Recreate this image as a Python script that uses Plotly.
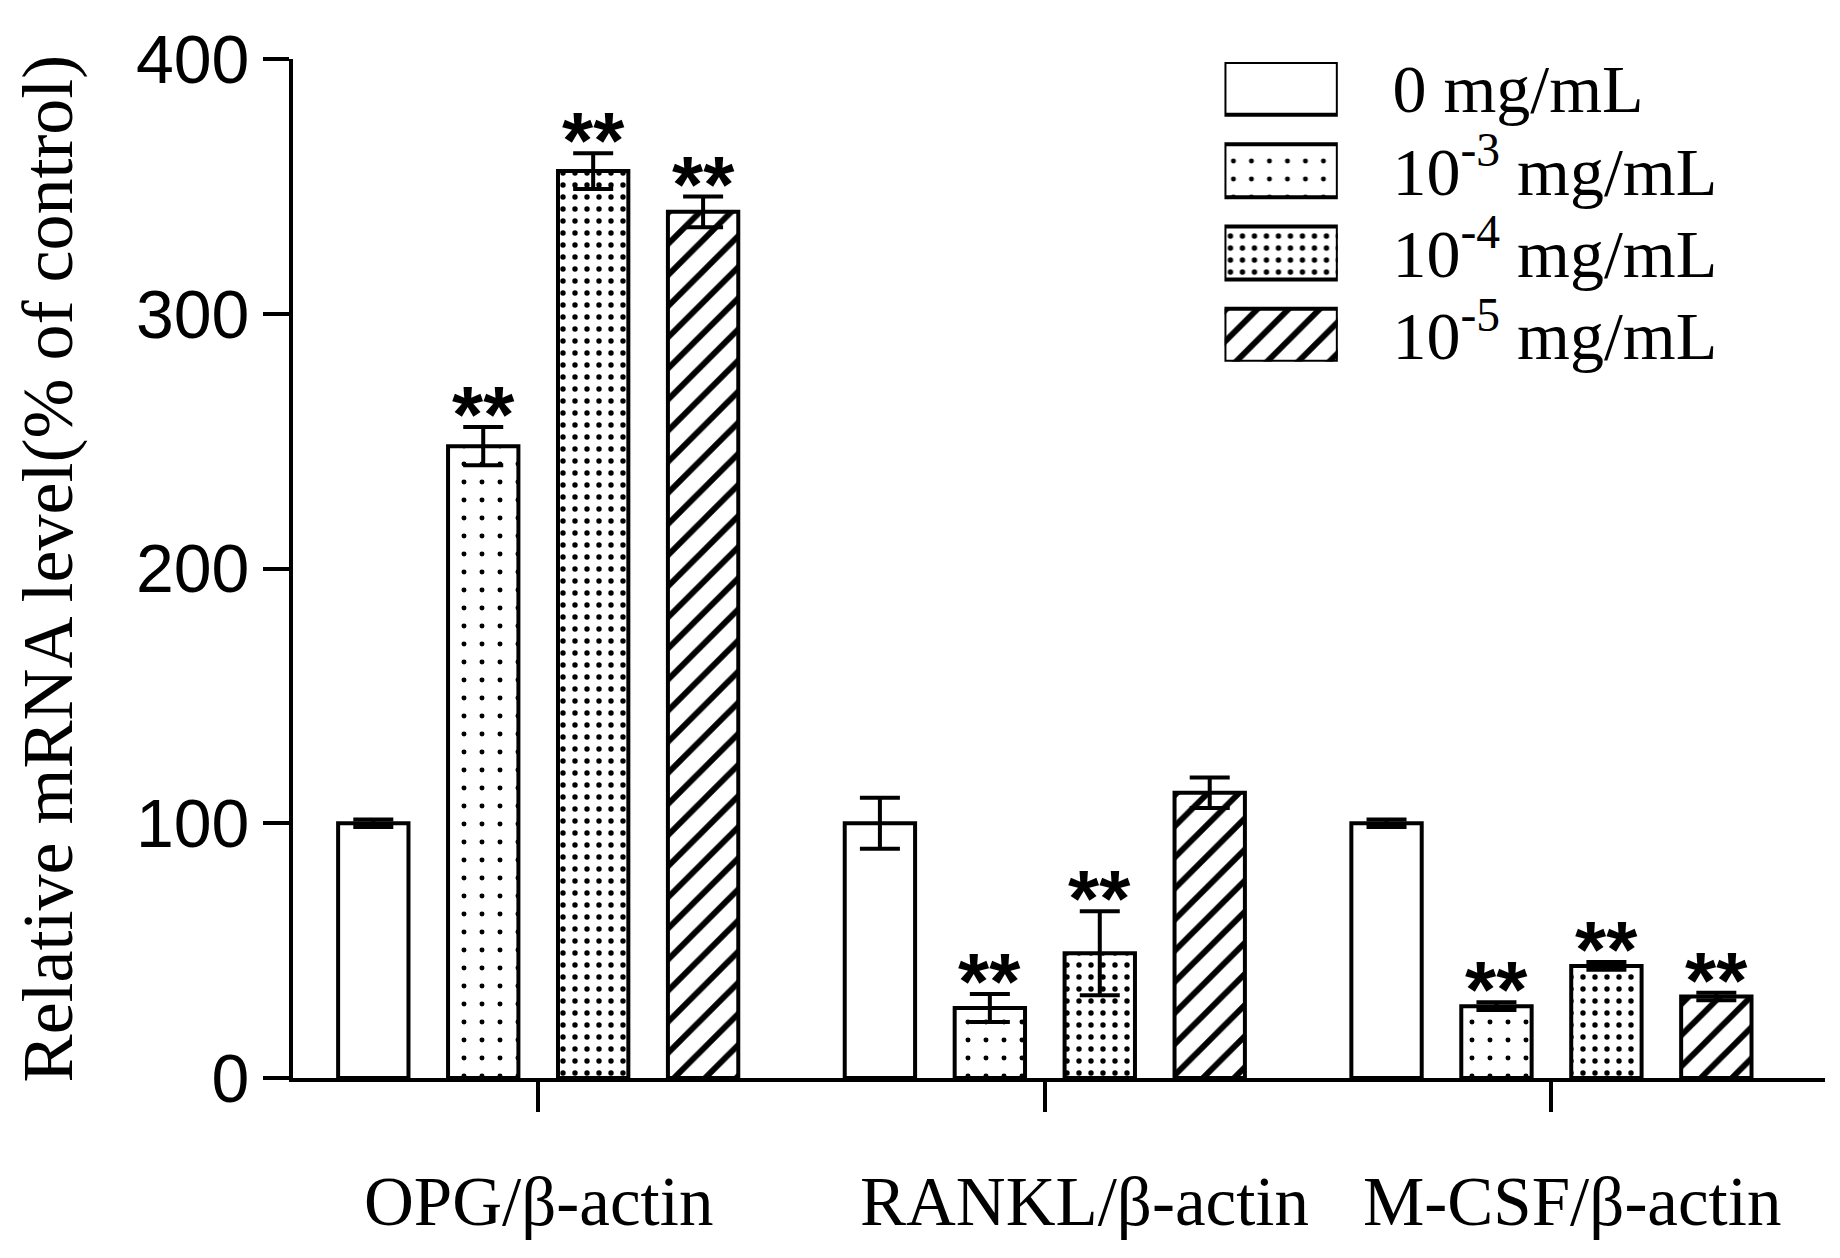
import plotly.graph_objects as go

categories = ["OPG/β-actin", "RANKL/β-actin", "M-CSF/β-actin"]
series_names = ["0 mg/mL", "10<sup>-3</sup> mg/mL", "10<sup>-4</sup> mg/mL", "10<sup>-5</sup> mg/mL"]

vals_0 = [100, 100, 100]
vals_3 = [248, 27.5, 28.2]
vals_4 = [356, 49, 44]
vals_5 = [340, 112, 32]

err_0 = [1.5, 10, 1.5]
err_3 = [7.5, 5.5, 1.5]
err_4 = [7, 16.5, 1.5]
err_5 = [6, 6, 1.5]

sig_0 = ["", "", ""]
sig_3 = ["**", "**", "**"]
sig_4 = ["**", "**", "**"]
sig_5 = ["**", "", "**"]

y_ticks = [0, 100, 200, 300, 400]

values = [vals_0, vals_3, vals_4, vals_5]
errors = [err_0, err_3, err_4, err_5]
sigs = [sig_0, sig_3, sig_4, sig_5]

# horizontal nudge of category labels (px), as placed in the original
label_shift_px = [0, 40, 21]

# pattern styles for each series
pat_shape = ["", ".", ".", "/"]
pat_size = [10, 18, 12, 22]
pat_solid = [0.2, 0.06, 0.16, 0.27]

BARGAP = 0.132
GROUPGAP = 0.36
serif = "Liberation Serif"
sans = "Liberation Sans"

fig = go.Figure()
xidx = list(range(len(categories)))
for i in range(4):
    fig.add_trace(go.Bar(
        x=xidx, y=values[i], name=series_names[i], showlegend=False,
        marker=dict(color="white", line=dict(color="black", width=4),
                    pattern=dict(shape=pat_shape[i], size=pat_size[i], solidity=pat_solid[i],
                                 fgcolor="black", bgcolor="white", fgopacity=1)),
        error_y=dict(type="data", array=errors[i], visible=True, color="black",
                     thickness=4, width=20),
    ))

slot = (1 - BARGAP) / 4
for i in range(4):
    for j in range(len(categories)):
        if sigs[i][j]:
            fig.add_annotation(x=xidx[j] + (i - 1.5) * slot, y=values[i][j] + errors[i][j],
                               xref="x", yref="y", text=sigs[i][j], showarrow=False,
                               xanchor="center", yanchor="bottom", yshift=-34,
                               font=dict(family=sans, size=80, color="black", weight="bold"))

for j, cat in enumerate(categories):
    fig.add_annotation(x=xidx[j], y=0, xref="x", yref="paper", text=cat, showarrow=False,
                       xanchor="center", yanchor="middle", xshift=label_shift_px[j], yshift=-124,
                       font=dict(family=serif, size=69, color="black"))

# legend drawn as an inset bar chart
leg_pos = list(range(4))
fig.add_trace(go.Bar(
    x=[1, 1, 1, 1], y=leg_pos, orientation="h", xaxis="x2", yaxis="y2", width=0.643,
    showlegend=False, hoverinfo="skip",
    marker=dict(color="white", line=dict(color="black", width=4),
                pattern=dict(shape=pat_shape, size=pat_size, solidity=pat_solid,
                             fgcolor="black", bgcolor="white", fgopacity=1)),
))

fig.add_annotation(x=-0.16, y=0.5, xref="paper", yref="paper", xanchor="center", yanchor="middle",
                   text="Relative mRNA level(% of control)", textangle=-90,
                   showarrow=False, font=dict(family=serif, size=72, color="black"))

fig.update_layout(
    width=1840, height=1258,
    margin=dict(l=285, r=23, t=51, b=188),
    paper_bgcolor="white", plot_bgcolor="white",
    barmode="group", bargap=BARGAP, bargroupgap=GROUPGAP,
    xaxis=dict(range=[-0.484, 2.540], tickvals=xidx, showticklabels=False,
               showline=True, linecolor="black", linewidth=4, showgrid=False, zeroline=False,
               ticks="outside", ticklen=30, tickwidth=4, tickcolor="black"),
    yaxis=dict(range=[0, 400], tickvals=y_ticks, showline=True, linecolor="black", linewidth=4,
               showgrid=False, zeroline=False, ticks="outside", ticklen=26, tickwidth=4,
               tickcolor="black", tickfont=dict(family=sans, size=68, color="black")),
    xaxis2=dict(domain=[0.608, 0.682], range=[0, 1], anchor="y2", visible=False, fixedrange=True),
    yaxis2=dict(domain=[0.703, 0.997], range=[3.32, -0.32], anchor="x2", side="right",
                tickvals=leg_pos, ticktext=series_names, showline=False, showgrid=False,
                zeroline=False, ticks="outside", ticklen=40, tickcolor="rgba(0,0,0,0)",
                tickfont=dict(family=serif, size=68, color="black")),
)

fig.write_html("out.html")
